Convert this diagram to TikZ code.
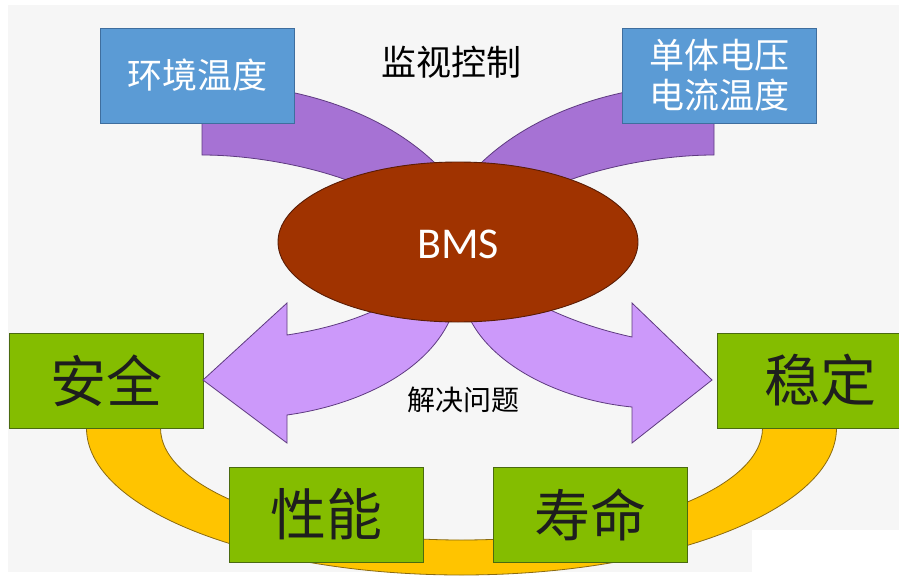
\documentclass[tikz,border=0pt]{standalone}
\usepackage{fontspec}
\newfontfamily\cjk{Noto Sans CJK SC}
\newfontfamily\calib{Carlito}
\usetikzlibrary{shapes.geometric}
\definecolor{bg}{HTML}{F6F6F6}
\definecolor{blueF}{HTML}{5B9BD5}
\definecolor{blueD}{HTML}{3F6E9E}
\definecolor{greenF}{HTML}{84BD00}
\definecolor{greenD}{HTML}{4A6A10}
\definecolor{yelF}{HTML}{FFC400}
\definecolor{yelD}{HTML}{8A6A10}
\definecolor{purF}{HTML}{A672D4}
\definecolor{purD}{HTML}{5E3A80}
\definecolor{lavF}{HTML}{CC99FA}
\definecolor{ellF}{HTML}{A03300}
\definecolor{ellD}{HTML}{5A1C05}
\definecolor{txtD}{HTML}{1E1E1E}
\tikzset{
  bbox/.style={draw=blueD, line width=0.9pt, fill=blueF, minimum width=194pt, minimum height=95pt, inner sep=0pt, text=white, font=\cjk\fontsize{35}{40}\selectfont, align=center},
  gbox/.style={draw=greenD, line width=0.9pt, fill=greenF, minimum width=194pt, minimum height=95pt, inner sep=0pt, text=txtD, font=\cjk\fontsize{56}{60}\selectfont},
  yband/.style={draw=yelD, line width=0.8pt, fill=yelF},
  pband/.style={draw=purD, line width=0.8pt, fill=purF},
  larrow/.style={draw=purD, line width=0.8pt, fill=lavF},
  lbl/.style={inner sep=0pt, text=black}
}
\begin{document}
\begin{tikzpicture}[x=1pt,y=-1pt]
\useasboundingbox (0,0) rectangle (899,583);
\clip (0,0) rectangle (899,583);
\fill[white] (0,0) rectangle (899,583);
\fill[bg] (8,5) rectangle (899,572);
\fill[white] (752,530) rectangle (899,583);

% yellow band
\draw[yband] (86.5,428) arc[start angle=180,end angle=0,x radius=375,y radius=147]
  -- (762.5,428) arc[start angle=0,end angle=180,x radius=301,y radius=112] -- cycle;

% green boxes
\node[gbox] (anquan) at (106,380.5) {安全};
\node[gbox] (xingneng) at (326.5,514.5) {性能};
\node[gbox] (shouming) at (590,514.5) {寿命};
\node[gbox, minimum width=206pt] (wending) at (820,380.5) {稳定};

% upper purple bands
\draw[pband] (202,83) -- (202,155) .. controls (260,155) and (330,170) .. (370,190)
  -- (455,185) .. controls (400,115) and (300,83) .. (202,83) -- cycle;
\draw[pband] (714,83) -- (714,155) .. controls (656,155) and (586,170) .. (546,190)
  -- (461,185) .. controls (516,115) and (616,83) .. (714,83) -- cycle;

% blue boxes
\node[bbox] (huanjing) at (197,75.5) {环境温度};
\node[bbox] (danti) at (719,75.5) {单体电压\\电流温度};

% lower lavender arrows
\draw[larrow] (203,380) -- (287,303) -- (287,335) .. controls (320,330) and (350,322) .. (380,308)
  -- (452,315) .. controls (430,370) and (360,405) .. (287,415) -- (287,443) -- cycle;
\draw[larrow] (712,380) -- (632,303) -- (632,337) .. controls (600,330) and (570,320) .. (540,305)
  -- (468,315) .. controls (490,365) and (560,400) .. (632,407) -- (632,443) -- cycle;

% BMS ellipse
\node[ellipse, draw=ellD, line width=0.9pt, fill=ellF, minimum width=360pt, minimum height=160pt, inner sep=0pt] (bms) at (458,242) {};
\node[inner sep=0pt, text=white, font=\calib\fontsize{44}{44}\selectfont] (bmstext) at (458,244) {BMS};

% labels
\node[lbl, font=\cjk\fontsize{35}{40}\selectfont] (jianshi) at (451,62) {监视控制};
\node[lbl, font=\cjk\fontsize{28}{32}\selectfont] (jiejue) at (463,400) {解决问题};
\end{tikzpicture}
\end{document}
